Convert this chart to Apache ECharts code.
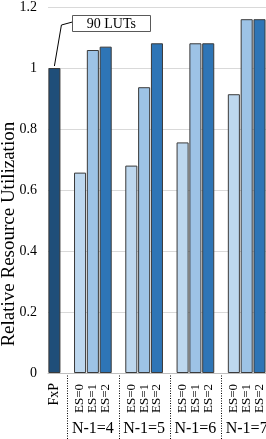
<!DOCTYPE html>
<html>
<head>
<meta charset="utf-8">
<script src="https://cdn.jsdelivr.net/npm/echarts@6/dist/echarts.min.js"></script>
<style>
html,body{margin:0;padding:0;background:#fff;}
#chart{width:266px;height:439px;}
</style>
</head>
<body>
<div id="chart"></div>
<script>
// ---- data ----
const baselineLabel = 'FxP';
const baselineValue = 1.0;
const groupLabels = ['N-1=4', 'N-1=5', 'N-1=6', 'N-1=7'];
const esLabels = ['ES=0', 'ES=1', 'ES=2'];
const es0Values = [0.657, 0.680, 0.756, 0.914];
const es1Values = [1.059, 0.937, 1.081, 1.160];
const es2Values = [1.070, 1.081, 1.081, 1.160];
const yTickValues = [0, 0.2, 0.4, 0.6, 0.8, 1, 1.2];
const annotationText = '90 LUTs';
const yAxisTitle = 'Relative Resource Utilization';

// ---- styles ----
const FONT = '"Liberation Serif", "DejaVu Serif", serif';
const baselineColor = '#1f4e79';
const esColors = ['#bdd7ee', '#9dc3e6', '#2e75b6'];
const esSeriesValues = [es0Values, es1Values, es2Values];

// build slot layout: FxP, gap, [3 bars], gap, [3 bars] ...
const cats = [];
const barData = [];
const blankSlots = [];
const groupCenters = [];
cats.push({ value: baselineLabel, textStyle: { fontSize: 14 } });
barData.push({ value: baselineValue, itemStyle: { color: baselineColor } });
groupLabels.forEach(function (g, gi) {
  blankSlots.push(cats.length);
  cats.push({ value: '' });
  barData.push('-');
  groupCenters.push(cats.length + 1);
  esLabels.forEach(function (es, ei) {
    cats.push({ value: es, textStyle: { padding: [0, 1, 0, 0] } });
    barData.push({ value: esSeriesValues[ei][gi], itemStyle: { color: esColors[ei] } });
  });
});

const chart = echarts.init(document.getElementById('chart'), null, { renderer: 'canvas' });
chart.setOption({
  animation: false,
  backgroundColor: '#fff',
  grid: { left: 48, right: 0, top: 6, bottom: 66, containLabel: false },
  xAxis: {
    type: 'category',
    data: cats,
    axisLine: { show: true, lineStyle: { color: '#bfbfbf', width: 1 } },
    axisTick: { show: false },
    axisLabel: {
      rotate: 90, interval: 0, margin: 10,
      fontFamily: FONT, fontSize: 13, color: '#000'
    }
  },
  yAxis: {
    type: 'value',
    min: yTickValues[0], max: yTickValues[yTickValues.length - 1], interval: 0.2,
    axisLine: { show: false },
    axisTick: { show: false },
    splitLine: { show: true, lineStyle: { color: '#d9d9d9', width: 1 } },
    axisLabel: { margin: 11, fontFamily: FONT, fontSize: 14, color: '#000' }
  },
  series: [{
    type: 'bar',
    data: barData,
    barCategoryGap: '6%',
    itemStyle: { borderColor: '#3a3a3a', borderWidth: 1 }
  }]
});

// overlay elements positioned through the chart's own scales
const graphics = [];
const yZero = chart.convertToPixel({ yAxisIndex: 0 }, 0);
const H = chart.getHeight();
blankSlots.forEach(function (s) {
  const x = Math.round(chart.convertToPixel({ xAxisIndex: 0 }, s)) + 0.5;
  graphics.push({
    type: 'line', silent: true,
    shape: { x1: x, y1: yZero, x2: x, y2: H },
    style: { stroke: '#000', lineWidth: 1, lineDash: [1, 1.5] }
  });
});
groupLabels.forEach(function (g, gi) {
  const x = chart.convertToPixel({ xAxisIndex: 0 }, groupCenters[gi]);
  graphics.push({
    type: 'text', silent: true, x: x, y: yZero + 56,
    style: { text: g, font: '16px ' + FONT, fill: '#000', align: 'center', verticalAlign: 'middle' }
  });
});
// y axis title
const yMid = chart.convertToPixel({ yAxisIndex: 0 }, 0.455);
graphics.push({
  type: 'text', silent: true, x: 9, y: yMid, rotation: Math.PI / 2,
  style: { text: yAxisTitle, font: '19px ' + FONT, fill: '#000', align: 'center', verticalAlign: 'middle' }
});
// callout for baseline bar
const p = chart.convertToPixel({ seriesIndex: 0 }, [0, baselineValue]);
graphics.push({
  type: 'polyline', silent: true,
  shape: { points: [[p[0], p[1] - 2], [p[0] + 7, p[1] - 43], [p[0] + 18, p[1] - 46]] },
  style: { stroke: '#000', lineWidth: 1, fill: null }
});
graphics.push({
  type: 'rect', silent: true,
  shape: { x: Math.round(p[0]) + 18.5, y: Math.round(p[1]) - 52.5, width: 78, height: 16 },
  style: { fill: '#fff', stroke: '#595959', lineWidth: 1 }
});
graphics.push({
  type: 'text', silent: true, x: p[0] + 57, y: p[1] - 44,
  style: { text: annotationText, font: '14px ' + FONT, fill: '#000', align: 'center', verticalAlign: 'middle' }
});
chart.setOption({ graphic: graphics });
</script>
</body>
</html>
